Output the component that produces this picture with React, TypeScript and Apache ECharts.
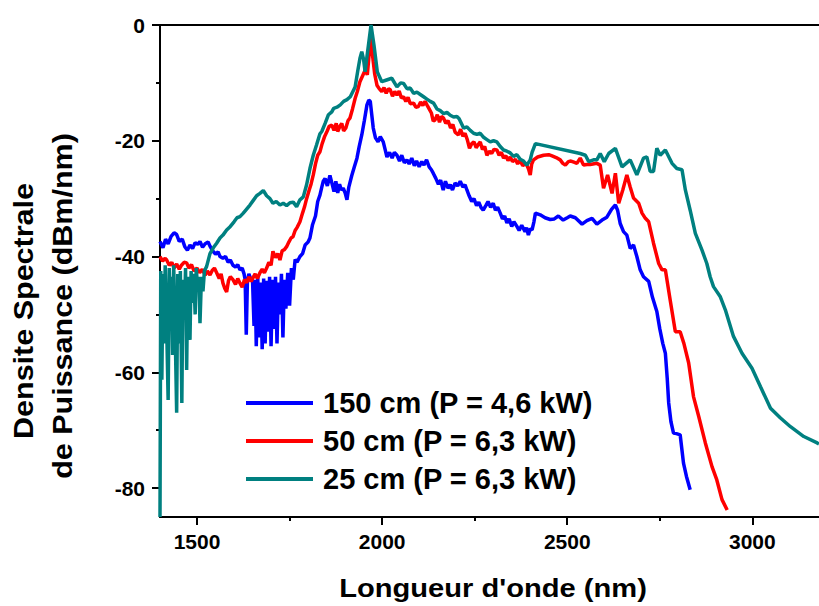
import React, { useEffect, useRef } from "react";
import * as echarts from "echarts";

// ---- Data ----
const seriesNames = ["150 cm (P = 4,6 kW)", "50 cm (P = 6,3 kW)", "25 cm (P = 6,3 kW)"];
const seriesColors = ["#0000FF", "#FF0000", "#008080"];

const xMajorTicks = [1500, 2000, 2500, 3000];
const xMinorTicks = [1750, 2250, 2750];
const yMajorTicks = [-80, -60, -40, -20, 0];
const yMinorTicks = [-70, -50, -30, -10];

const wl150 = [1400,1408,1415,1422,1430,1438,1445,1452,1460,1467,1474,1481,1488,1495,1502,1508,1515,1522,1530,1535,1542,1550,1557,1562,1570,1577,1584,1590,1597,1604,1610,1616,1622,1627,1630,1633,1636,1640,1645,1650,1654,1657,1660,1664,1668,1672,1676,1680,1684,1688,1692,1696,1700,1704,1708,1712,1716,1720,1724,1728,1732,1736,1740,1745,1750,1755,1760,1765,1770,1778,1785,1792,1800,1805,1812,1820,1826,1832,1837,1841,1846,1852,1859,1865,1870,1875,1880,1885,1890,1895,1900,1905,1910,1918,1925,1932,1938,1945,1952,1959,1964,1968,1972,1976,1982,1989,1995,2003,2008,2013,2020,2027,2033,2040,2047,2053,2060,2067,2073,2080,2087,2093,2100,2107,2113,2120,2127,2133,2138,2145,2152,2158,2165,2171,2178,2184,2190,2197,2204,2211,2218,2224,2229,2235,2242,2248,2255,2261,2267,2273,2280,2286,2293,2300,2306,2312,2319,2325,2331,2337,2343,2350,2356,2364,2370,2377,2386,2390,2395,2400,2405,2410,2414,2427,2440,2454,2465,2476,2489,2500,2508,2522,2540,2553,2567,2580,2594,2607,2620,2630,2636,2643,2652,2661,2670,2679,2688,2697,2706,2720,2730,2742,2750,2758,2765,2770,2774,2780,2787,2795,2805,2810,2814,2822,2832];
const psd150 = [-37.4,-38.5,-37.0,-37.8,-36.5,-35.9,-36.2,-37.4,-37.0,-38.3,-38.9,-38.0,-38.6,-37.6,-37.9,-37.4,-38.4,-37.8,-37.5,-38.2,-39.0,-39.6,-39.2,-40.0,-40.3,-40.0,-41.0,-40.6,-41.5,-41.8,-41.4,-42.3,-42.0,-43.0,-44.0,-53.5,-44.5,-43.0,-43.8,-44.2,-52.0,-44.0,-55.5,-43.5,-54.0,-44.5,-56.0,-43.8,-55.0,-44.2,-53.0,-43.5,-55.5,-44.0,-52.5,-43.5,-55.0,-44.5,-50.0,-43.0,-54.0,-44.0,-49.0,-42.8,-48.5,-42.0,-44.0,-40.5,-41.0,-40.0,-39.5,-38.0,-37.5,-36.8,-34.5,-33.0,-30.5,-29.4,-28.0,-27.0,-26.5,-27.8,-26.0,-27.5,-28.8,-27.0,-29.0,-27.5,-28.5,-28.2,-29.0,-30.2,-28.0,-26.0,-24.5,-23.0,-21.0,-19.0,-16.5,-13.8,-13.0,-13.2,-15.5,-17.8,-19.5,-20.2,-19.3,-20.2,-21.5,-22.8,-22.0,-23.0,-22.0,-22.5,-23.5,-22.5,-23.8,-23.3,-24.0,-23.0,-24.3,-23.5,-24.5,-23.6,-24.2,-23.3,-24.5,-25.0,-25.6,-26.5,-27.5,-26.8,-28.5,-27.0,-28.2,-27.6,-28.5,-27.3,-27.8,-27.0,-28.0,-27.6,-28.5,-29.5,-30.5,-30.0,-31.2,-30.6,-31.5,-32.0,-31.2,-30.5,-31.5,-30.8,-32.0,-31.5,-32.5,-33.5,-33.0,-34.2,-33.5,-34.8,-34.0,-34.8,-35.5,-34.6,-35.7,-35.0,-36.3,-35.2,-35.4,-34.0,-32.5,-32.8,-33.3,-33.6,-33.5,-33.0,-33.7,-33.3,-33.0,-33.3,-34.4,-33.8,-33.4,-34.4,-33.7,-33.2,-31.8,-31.1,-32.0,-34.3,-35.7,-36.3,-38.6,-38.0,-40.0,-42.3,-43.5,-44.3,-47.0,-49.5,-52.5,-55.0,-56.7,-61.0,-65.3,-68.5,-70.5,-70.6,-70.8,-73.5,-75.7,-78.0,-80.3];

const wl50 = [1400,1407,1414,1418,1425,1432,1438,1445,1452,1458,1465,1472,1478,1485,1492,1500,1507,1514,1522,1528,1535,1541,1547,1553,1560,1565,1570,1575,1580,1585,1590,1597,1604,1610,1616,1622,1628,1634,1640,1646,1651,1657,1663,1670,1676,1682,1688,1694,1700,1705,1712,1718,1724,1730,1736,1742,1748,1754,1759,1765,1770,1778,1785,1790,1796,1803,1808,1814,1820,1826,1832,1838,1845,1851,1857,1864,1870,1876,1880,1886,1891,1896,1902,1908,1913,1920,1927,1933,1940,1947,1954,1960,1965,1969,1972,1976,1980,1986,1992,1999,2005,2011,2017,2022,2028,2034,2040,2046,2052,2058,2064,2070,2076,2085,2091,2098,2104,2110,2116,2121,2127,2133,2138,2143,2149,2155,2160,2166,2172,2178,2185,2191,2197,2206,2212,2218,2224,2230,2236,2242,2248,2254,2260,2265,2271,2277,2283,2290,2296,2302,2310,2316,2322,2328,2334,2340,2346,2352,2360,2366,2372,2380,2386,2391,2396,2400,2404,2409,2420,2436,2450,2459,2470,2481,2488,2495,2503,2510,2518,2526,2535,2544,2553,2562,2580,2589,2598,2609,2621,2630,2639,2650,2661,2670,2679,2693,2702,2711,2720,2733,2747,2756,2765,2778,2792,2805,2815,2828,2841,2855,2873,2891,2904,2918,2932];
const psd50 = [-40.0,-40.8,-40.3,-40.6,-41.5,-41.0,-42.0,-41.3,-42.2,-41.5,-41.0,-41.1,-42.0,-41.4,-42.5,-42.0,-42.8,-42.2,-43.2,-42.5,-43.2,-42.4,-42.0,-42.8,-43.8,-43.0,-44.6,-45.5,-46.1,-44.2,-43.5,-44.0,-44.8,-43.8,-44.6,-45.3,-44.0,-44.5,-43.5,-44.3,-43.7,-43.0,-43.8,-42.8,-42.2,-42.8,-42.0,-41.0,-41.5,-39.1,-40.2,-39.5,-40.6,-39.0,-38.8,-38.3,-37.5,-36.8,-36.6,-35.5,-35.0,-34.0,-32.5,-31.5,-30.0,-28.5,-27.5,-25.9,-24.0,-22.5,-21.9,-20.5,-19.2,-18.4,-17.5,-17.3,-18.2,-17.0,-18.4,-17.5,-17.0,-18.3,-17.8,-16.5,-16.1,-14.5,-12.7,-11.5,-9.8,-8.8,-7.8,-8.6,-5.0,-2.3,-4.0,-6.3,-8.5,-10.4,-11.0,-11.5,-10.8,-11.8,-11.0,-11.2,-12.3,-11.5,-12.1,-11.4,-12.6,-12.4,-13.2,-12.5,-13.6,-13.5,-14.2,-14.1,-13.3,-13.9,-13.2,-13.8,-14.5,-15.2,-16.6,-16.4,-15.5,-16.8,-15.8,-16.1,-17.0,-16.5,-17.8,-17.2,-18.5,-19.0,-18.0,-19.2,-18.7,-19.8,-21.3,-20.5,-20.2,-21.2,-20.6,-20.2,-21.5,-21.0,-22.5,-21.8,-22.2,-21.5,-21.6,-22.5,-22.0,-23.0,-22.6,-23.4,-22.8,-23.6,-23.2,-24.0,-23.4,-24.3,-24.0,-24.2,-25.0,-25.9,-24.0,-23.3,-22.8,-22.5,-22.4,-22.6,-22.9,-23.3,-23.9,-24.2,-23.6,-23.5,-23.7,-23.9,-23.0,-24.2,-24.1,-24.1,-23.9,-24.2,-28.2,-25.9,-29.1,-25.6,-30.8,-28.5,-25.9,-28.0,-29.9,-30.8,-32.5,-33.4,-34.0,-37.7,-41.2,-42.3,-42.3,-47.5,-53.0,-53.0,-55.0,-58.4,-64.2,-67.6,-72.2,-76.3,-78.6,-82.0,-83.8];

const wl25 = [1400,1402,1405,1408,1411,1414,1418,1422,1425,1428,1431,1434,1437,1441,1445,1448,1452,1455,1459,1462,1466,1469,1472,1475,1478,1481,1484,1488,1491,1495,1498,1502,1505,1508,1512,1516,1520,1526,1535,1544,1553,1562,1570,1580,1590,1600,1608,1616,1625,1634,1643,1652,1661,1670,1679,1688,1697,1705,1714,1724,1733,1742,1751,1760,1769,1778,1787,1796,1805,1814,1823,1832,1837,1846,1855,1864,1869,1878,1887,1896,1905,1914,1927,1934,1940,1945,1950,1954,1959,1963,1970,1978,1987,1999,2012,2026,2040,2050,2058,2067,2076,2085,2094,2103,2112,2121,2130,2139,2148,2157,2166,2175,2184,2193,2202,2208,2220,2229,2238,2247,2256,2265,2274,2283,2292,2301,2310,2319,2328,2337,2346,2355,2364,2373,2382,2391,2400,2405,2414,2535,2549,2558,2571,2580,2589,2600,2612,2630,2648,2670,2688,2706,2715,2724,2733,2742,2751,2765,2783,2796,2810,2819,2832,2846,2864,2877,2886,2895,2913,2927,2949,2972,2999,3022,3049,3076,3103,3139,3175,3180];
const psd25 = [-85.0,-42.5,-61.3,-43.0,-55.0,-41.5,-52.0,-64.8,-42.0,-50.0,-43.5,-57.0,-41.5,-53.0,-67.0,-43.0,-55.0,-42.5,-65.3,-44.0,-50.0,-42.0,-59.6,-43.5,-48.0,-54.4,-42.5,-48.0,-43.0,-50.0,-42.0,-46.0,-43.5,-51.5,-43.5,-46.0,-42.5,-41.7,-39.5,-38.5,-37.7,-36.8,-36.3,-35.4,-34.8,-34.0,-33.3,-33.1,-32.5,-31.8,-31.1,-30.3,-29.5,-29.1,-28.6,-29.5,-30.0,-30.8,-30.5,-31.1,-30.8,-31.2,-30.7,-30.6,-31.4,-30.2,-29.7,-27.6,-24.8,-22.5,-20.7,-18.8,-18.4,-17.0,-15.5,-15.0,-14.4,-14.2,-13.8,-13.2,-12.9,-12.4,-10.7,-8.0,-5.8,-4.6,-6.0,-8.1,-5.5,-3.5,0.0,-3.5,-8.1,-9.8,-9.5,-9.2,-10.7,-10.0,-10.1,-11.0,-10.9,-11.8,-11.6,-12.0,-12.4,-12.8,-13.2,-13.5,-14.5,-14.8,-15.3,-15.1,-15.6,-15.9,-15.8,-16.2,-17.8,-17.6,-18.2,-18.7,-18.9,-18.7,-19.4,-19.8,-20.2,-20.0,-20.2,-21.0,-21.6,-21.8,-22.1,-22.7,-22.4,-23.2,-23.5,-24.2,-23.3,-22.0,-20.5,-22.2,-22.5,-23.6,-23.3,-23.3,-22.2,-23.6,-22.2,-21.3,-24.5,-23.3,-25.9,-23.0,-22.8,-25.3,-25.3,-21.3,-22.5,-21.6,-23.9,-24.8,-25.0,-28.5,-32.0,-36.0,-38.9,-41.2,-43.5,-45.2,-46.9,-49.2,-53.8,-56.7,-59.3,-62.5,-66.2,-67.9,-69.4,-71.1,-72.2,-72.4];

const xMin = 1400;
const xMax = 3180;
const yMin = -85;
const yMax = 0;

const FONT = "Liberation Sans";

function zip(xs: number[], ys: number[]) {
  return xs.map((x, i) => [x, ys[i]]);
}

export default function App() {
  const ref = useRef<HTMLDivElement>(null);

  useEffect(() => {
    if (!ref.current) return;
    const chart = echarts.init(ref.current, undefined, { renderer: "svg" });
    const axisLineStyle = { color: "#000", width: 2 };

    const option: any = {
      animation: false,
      backgroundColor: "#fff",
      grid: { left: 160, top: 25, right: 0, bottom: 89 },
      xAxis: [
        {
          type: "value", min: xMin, max: xMax, position: "bottom",
          axisLine: { show: true, onZero: false, lineStyle: axisLineStyle },
          axisTick: { show: true, customValues: xMajorTicks, length: 8, lineStyle: axisLineStyle },
          axisLabel: {
            customValues: xMajorTicks, margin: 14,
            fontSize: 21, fontWeight: "bold", color: "#000", fontFamily: FONT,
            formatter: (v: number) => String(v),
          },
          splitLine: { show: false },
        },
        {
          type: "value", min: xMin, max: xMax, position: "bottom",
          axisLine: { show: false, onZero: false },
          axisTick: { show: true, customValues: xMinorTicks, length: 4, lineStyle: axisLineStyle },
          axisLabel: { show: false },
          splitLine: { show: false },
        },
        {
          type: "value", min: xMin, max: xMax, position: "top",
          axisLine: { show: true, onZero: false, lineStyle: axisLineStyle },
          axisTick: { show: false },
          axisLabel: { show: false },
          splitLine: { show: false },
        },
      ],
      yAxis: [
        {
          type: "value", min: yMin, max: yMax, position: "left",
          axisLine: { show: true, onZero: false, lineStyle: axisLineStyle },
          axisTick: { show: true, customValues: yMajorTicks, length: 8, lineStyle: axisLineStyle },
          axisLabel: {
            customValues: yMajorTicks, margin: 15,
            fontSize: 21, fontWeight: "bold", color: "#000", fontFamily: FONT,
            formatter: (v: number) => String(v),
          },
          splitLine: { show: false },
        },
        {
          type: "value", min: yMin, max: yMax, position: "left",
          axisLine: { show: false, onZero: false },
          axisTick: { show: true, customValues: yMinorTicks, length: 4, lineStyle: axisLineStyle },
          axisLabel: { show: false },
          splitLine: { show: false },
        },
      ],
      legend: {
        orient: "vertical",
        left: 246,
        top: 388,
        padding: 0,
        itemWidth: 67,
        itemHeight: 4,
        itemGap: 8,
        icon: "rect",
        data: seriesNames,
        textStyle: { fontSize: 29, fontWeight: "bold", color: "#000", fontFamily: FONT, lineHeight: 30, padding: [0, 0, 0, 5] },
      },
      graphic: [
        {
          type: "text", x: 493, y: 588, scaleX: 1.12,
          style: { text: "Longueur d'onde (nm)", fontSize: 26, fontWeight: "bold", fill: "#000", fontFamily: FONT, align: "center", verticalAlign: "middle" },
        },
        {
          type: "text", x: 23, y: 311, rotation: Math.PI / 2, scaleX: 1.09,
          style: { text: "Densite Spectrale", fontSize: 28, fontWeight: "bold", fill: "#000", fontFamily: FONT, align: "center", verticalAlign: "middle" },
        },
        {
          type: "text", x: 62, y: 306, rotation: Math.PI / 2, scaleX: 1.09,
          style: { text: "de Puissance (dBm/nm)", fontSize: 28, fontWeight: "bold", fill: "#000", fontFamily: FONT, align: "center", verticalAlign: "middle" },
        },
      ],
      series: [
        { name: seriesNames[0], data: zip(wl150, psd150) },
        { name: seriesNames[1], data: zip(wl50, psd50) },
        { name: seriesNames[2], data: zip(wl25, psd25) },
      ].map((s, i) => ({
        ...s,
        type: "line",
        xAxisIndex: 0,
        yAxisIndex: 0,
        showSymbol: false,
        symbol: "none",
        color: seriesColors[i],
        lineStyle: { color: seriesColors[i], width: 3.5 },
        clip: true,
      })),
    };

    chart.setOption(option);
    return () => chart.dispose();
  }, []);

  return (
    <div
      ref={ref}
      style={{ position: "absolute", left: 0, top: 0, width: 819, height: 606 }}
    />
  );
}
